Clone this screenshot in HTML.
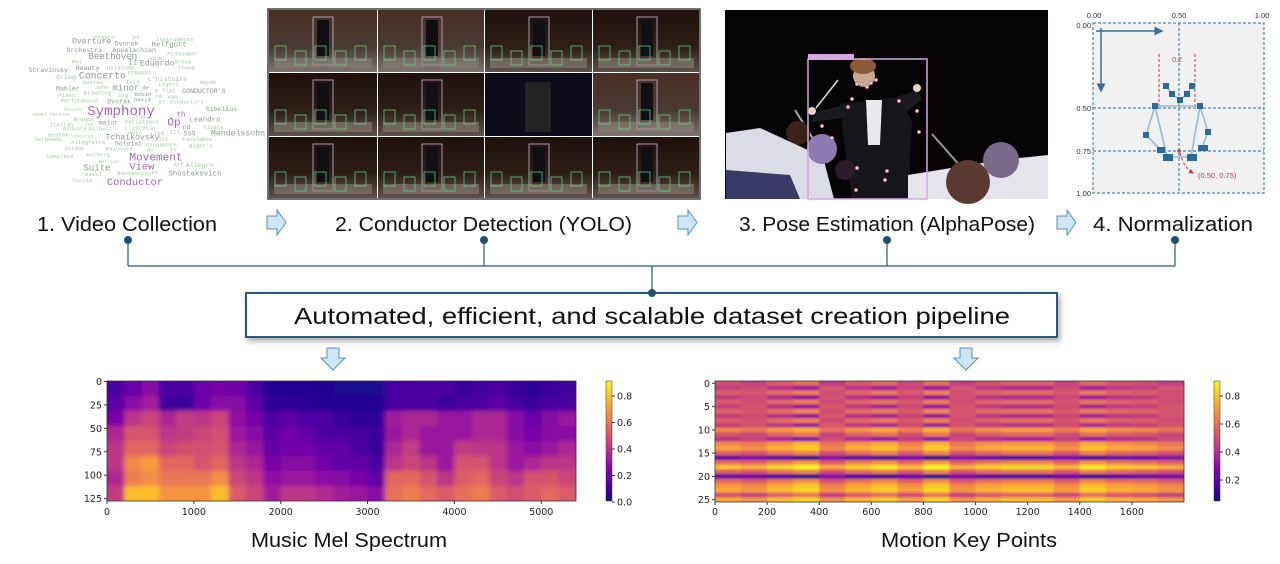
<!DOCTYPE html>
<html><head><meta charset="utf-8"><style>
html,body{margin:0;padding:0;background:#fff;}
svg{display:block;}
.lbl{font-family:"Liberation Sans",sans-serif;fill:#111;}
.wc{font-family:"Liberation Mono",monospace;}
.tk{font-family:"DejaVu Sans","Liberation Sans",sans-serif;font-size:9.5px;fill:#222;}
</style></head><body>
<svg id="root" width="1280" height="564" viewBox="0 0 1280 564" xmlns="http://www.w3.org/2000/svg">
<defs>
<filter id="blur2" x="-2%" y="-2%" width="104%" height="104%"><feGaussianBlur stdDeviation="2.4"/></filter>
<filter id="blur1" x="-2%" y="-2%" width="104%" height="104%"><feGaussianBlur stdDeviation="1.0"/></filter>
<filter id="shadow" x="-5%" y="-30%" width="110%" height="170%"><feDropShadow dx="2" dy="3" stdDeviation="3" flood-color="#000" flood-opacity="0.35"/></filter>
<clipPath id="clipMel"><rect x="107" y="381" width="469" height="120"/></clipPath>
<clipPath id="clipMot"><rect x="715" y="381" width="469" height="121"/></clipPath>
<linearGradient id="tileg" x1="0" y1="0" x2="0" y2="1"><stop offset="0" stop-color="#1e100c"/><stop offset="0.6" stop-color="#2e1e18"/><stop offset="1" stop-color="#5e524c"/></linearGradient>
<linearGradient id="tileg2" x1="0" y1="0" x2="0" y2="1"><stop offset="0" stop-color="#4a2e26"/><stop offset="0.6" stop-color="#4a3a34"/><stop offset="1" stop-color="#7e7470"/></linearGradient>
<linearGradient id="cbar" x1="0" y1="1" x2="0" y2="0">
<stop offset="0" stop-color="#0d0887"/><stop offset="0.1" stop-color="#41049d"/><stop offset="0.2" stop-color="#6a00a8"/><stop offset="0.3" stop-color="#8f0da4"/><stop offset="0.4" stop-color="#b12a90"/><stop offset="0.5" stop-color="#cc4778"/><stop offset="0.6" stop-color="#e16462"/><stop offset="0.7" stop-color="#f2844b"/><stop offset="0.8" stop-color="#fca636"/><stop offset="0.9" stop-color="#fcce25"/><stop offset="1" stop-color="#f0f921"/></linearGradient>
<marker id="ah" markerWidth="6" markerHeight="6" refX="5" refY="3" orient="auto"><path d="M0,0 L6,3 L0,6 z" fill="#3a6f93"/></marker>
<marker id="ahr" markerWidth="5" markerHeight="5" refX="4" refY="2.5" orient="auto"><path d="M0,0 L5,2.5 L0,5 z" fill="#c0394b"/></marker>
</defs>

<g id="wordcloud"></g>

<g id="photogrid">
<rect x="268" y="9" width="432" height="190" fill="#fff" stroke="#111" stroke-width="1.2"/>
</g>

<g>
<rect x="725" y="10" width="323" height="189" fill="#050303"/>
<path d="M840,104 L897,97 L912,120 L908,199 L852,199 L845,150 Z" fill="#15151a"/>
<path d="M866,100 L882,100 L880,145 L868,145 Z" fill="#e8e8ec"/>
<path d="M849,104 L815,112 L812,122 L846,118 Z" fill="#1a1a20"/>
<path d="M897,97 L918,90 L922,100 L906,112 Z" fill="#1a1a20"/>
<circle cx="864" cy="76" r="11" fill="#c8a890"/>
<ellipse cx="863" cy="66" rx="13" ry="8" fill="#8a5a3a"/>
<circle cx="812" cy="111" r="4" fill="#e8d0c8"/><circle cx="917" cy="88" r="4" fill="#e8d0c8"/>
<line x1="816" y1="108" x2="838" y2="80" stroke="#ddd" stroke-width="1.5"/>
<line x1="795" y1="110" x2="820" y2="150" stroke="#aaa" stroke-width="2"/>
<line x1="932" y1="134" x2="962" y2="168" stroke="#999" stroke-width="2"/>
<circle cx="798" cy="133" r="12" fill="#3a2218"/>
<path d="M726,133 L760,128 L823,157 L834,199 L726,199 Z" fill="#dcdce6"/>
<path d="M726,170 L790,175 L800,199 L726,199 Z" fill="#3a3a66"/>
<circle cx="822" cy="149" r="15" fill="#8d7ab0"/>
<path d="M908,175 L1000,160 L1048,155 L1048,199 L908,199 Z" fill="#e4e4ea"/>
<circle cx="1001" cy="160" r="18" fill="#7a6a8a"/>
<circle cx="968" cy="182" r="22" fill="#5a3a30"/>
<circle cx="845" cy="170" r="10" fill="#2a1a2a"/>
<rect x="808" y="59" width="119" height="140" fill="none" stroke="#d7a6e2" stroke-width="1.5"/>
<rect x="808" y="54" width="46" height="6" fill="#d7a6e2"/>
<g fill="#f0d0d0" stroke="#a04050" stroke-width="0.5">
<circle cx="857" cy="84" r="1.8"/><circle cx="862" cy="84" r="1.8"/><circle cx="867" cy="87" r="1.8"/><circle cx="871" cy="83" r="1.8"/><circle cx="876" cy="80" r="1.8"/>
<circle cx="852" cy="99" r="1.8"/><circle cx="899" cy="101" r="1.8"/><circle cx="848" cy="107" r="1.8"/><circle cx="917" cy="111" r="1.8"/>
<circle cx="822" cy="126" r="1.8"/><circle cx="919" cy="132" r="1.8"/><circle cx="832" cy="138" r="1.8"/>
<circle cx="857" cy="168" r="1.8"/><circle cx="887" cy="171" r="1.8"/><circle cx="885" cy="180" r="1.8"/><circle cx="856" cy="190" r="1.8"/>
</g>
</g>

<g>
<rect x="1093" y="23" width="171" height="170" fill="#f1f1f1"/>
<g stroke="#4a86ab" stroke-width="1.2" stroke-dasharray="3,2" fill="none">
<rect x="1093" y="23" width="171" height="170"/>
<line x1="1179" y1="23" x2="1179" y2="193"/>
<line x1="1093" y1="108" x2="1264" y2="108"/>
<line x1="1093" y1="151" x2="1264" y2="151"/>
</g>
<line x1="1096" y1="31" x2="1162" y2="31" stroke="#3a6f93" stroke-width="1.5" marker-end="url(#ah)"/>
<line x1="1101" y1="28" x2="1101" y2="91" stroke="#3a6f93" stroke-width="1.5" marker-end="url(#ah)"/>
<g font-family="Liberation Sans,sans-serif" font-size="7.5" fill="#333">
<text x="1094" y="18" text-anchor="middle">0.00</text><text x="1179" y="18" text-anchor="middle">0.50</text><text x="1262" y="18" text-anchor="middle">1.00</text>
<text x="1091" y="28" text-anchor="end">0.00</text><text x="1091" y="111" text-anchor="end">0.50</text><text x="1091" y="154" text-anchor="end">0.75</text><text x="1091" y="196" text-anchor="end">1.00</text>
</g>
<g stroke="#c0394b" stroke-width="1" stroke-dasharray="3,2" fill="none">
<line x1="1159" y1="54" x2="1159" y2="108"/><line x1="1195" y1="54" x2="1195" y2="108"/>
<path d="M1180,153 Q1184,168 1193,173" marker-end="url(#ahr)"/>
</g>
<text x="1177" y="62" text-anchor="middle" font-family="Liberation Sans,sans-serif" font-size="7" fill="#c0394b">0.2</text>
<text x="1198" y="178" font-family="Liberation Sans,sans-serif" font-size="7.5" fill="#c0394b">(0.50, 0.75)</text>
<g stroke="#9ab8d4" stroke-width="1.6" fill="none">
<polyline points="1166,86 1172,94 1180,100 1187,94 1192,86"/>
<polyline points="1155,106 1200,106"/>
<polyline points="1155,106 1146,135 1161,150"/>
<polyline points="1155,106 1167,157 1191,157 1200,106"/>
<polyline points="1200,106 1208,132 1202,148"/>
</g>
<circle cx="1179" cy="151" r="1.8" fill="#c0394b"/>
<g fill="#2a6a96">
<rect x="1163" y="83" width="6" height="6"/><rect x="1189" y="83" width="6" height="6"/><rect x="1169" y="91" width="6" height="6"/><rect x="1184" y="91" width="6" height="6"/><rect x="1177" y="97" width="6" height="6"/>
<rect x="1152" y="103" width="6" height="6"/><rect x="1197" y="103" width="6" height="6"/><rect x="1143" y="132" width="6" height="6"/><rect x="1205" y="129" width="6" height="6"/>
<rect x="1157" y="147" width="8" height="6"/><rect x="1198" y="145" width="10" height="6"/><rect x="1163" y="154" width="10" height="7"/><rect x="1187" y="154" width="10" height="7"/>
</g>
</g>

<g class="lbl" font-size="20">
<text x="37" y="231" textLength="180" lengthAdjust="spacingAndGlyphs">1. Video Collection</text>
<text x="335" y="231" textLength="297" lengthAdjust="spacingAndGlyphs">2. Conductor Detection (YOLO)</text>
<text x="739" y="231" textLength="296" lengthAdjust="spacingAndGlyphs">3. Pose Estimation (AlphaPose)</text>
<text x="1093" y="231" textLength="160" lengthAdjust="spacingAndGlyphs">4. Normalization</text>
</g>
<g fill="#cfe6f5" stroke="#5b8fb5" stroke-width="1">
<path d="M267,216 L277,216 L277,210 L286,222.5 L277,235 L277,229 L267,229 Z"/>
<path d="M678,216 L688,216 L688,210 L697,222.5 L688,235 L688,229 L678,229 Z"/>
<path d="M1057,216 L1067,216 L1067,210 L1076,222.5 L1067,235 L1067,229 L1057,229 Z"/>
<path d="M327,348 L339,348 L339,358 L345,358 L333,370 L321,358 L327,358 Z"/>
<path d="M960,348 L972,348 L972,358 L978,358 L966,370 L954,358 L960,358 Z"/>
</g>

<g stroke="#2b5877" stroke-width="1.2" fill="none">
<line x1="128" y1="240" x2="128" y2="266"/><line x1="484" y1="240" x2="484" y2="266"/><line x1="887" y1="240" x2="887" y2="266"/><line x1="1175" y1="240" x2="1175" y2="266"/>
<line x1="128" y1="266" x2="1175" y2="266"/><line x1="652" y1="266" x2="652" y2="293"/>
</g>
<g fill="#22506f">
<circle cx="128" cy="240" r="4"/><circle cx="484" cy="240" r="4"/><circle cx="887" cy="240" r="4"/><circle cx="1175" cy="240" r="4"/>
</g>
<rect x="246" y="293" width="811" height="44" fill="#fff" stroke="#2b5877" stroke-width="2" filter="url(#shadow)"/>
<circle cx="652" cy="293" r="4" fill="#22506f"/>
<text class="lbl" x="294" y="324" font-size="23" textLength="716" lengthAdjust="spacingAndGlyphs">Automated, efficient, and scalable dataset creation pipeline</text>

<g id="mel"></g>
<g id="mot"></g>

<text class="lbl" x="251" y="547" font-size="20" textLength="196" lengthAdjust="spacingAndGlyphs">Music Mel Spectrum</text>
<text class="lbl" x="881" y="547" font-size="20" textLength="176" lengthAdjust="spacingAndGlyphs">Motion Key Points</text>
</svg>

<script>
// ---------- Mel spectrum data: 27 time segments x 8 mel bands (top bin 0 -> bottom bin 127)
const melTimeEdges = [0,200,400,600,800,1000,1200,1400,1600,1800,2000,2200,2400,2600,2800,3000,3200,3400,3600,3800,4000,4200,4400,4600,4800,5000,5200,5400];
const melBandEdges = [0,16,32,48,64,80,96,112,128];
const melValues = [
[.12,.15,.22,.35,.40,.40,.35,.42],
[.18,.25,.40,.50,.55,.65,.62,.78],
[.25,.32,.45,.50,.55,.70,.66,.78],
[.12,.08,.35,.40,.45,.55,.60,.68],
[.12,.08,.42,.42,.48,.55,.60,.68],
[.18,.20,.40,.45,.48,.50,.60,.68],
[.22,.25,.45,.48,.50,.55,.66,.78],
[.20,.25,.28,.30,.35,.40,.45,.52],
[.12,.15,.22,.25,.30,.35,.40,.45],
[.04,.06,.12,.15,.17,.22,.27,.32],
[.04,.06,.15,.20,.20,.25,.30,.40],
[.04,.05,.12,.16,.20,.25,.30,.40],
[.04,.04,.12,.12,.16,.20,.26,.36],
[.03,.04,.08,.12,.16,.16,.25,.32],
[.03,.04,.06,.10,.12,.16,.22,.30],
[.03,.04,.06,.08,.08,.12,.16,.26],
[.10,.10,.32,.30,.35,.40,.55,.58],
[.10,.12,.35,.35,.42,.45,.56,.62],
[.12,.12,.35,.30,.30,.40,.50,.56],
[.12,.08,.30,.30,.30,.30,.40,.52],
[.08,.10,.30,.30,.42,.50,.52,.58],
[.10,.12,.35,.35,.40,.50,.56,.62],
[.12,.15,.35,.35,.40,.40,.45,.52],
[.08,.10,.25,.25,.30,.30,.40,.48],
[.06,.08,.18,.22,.26,.35,.50,.52],
[.08,.10,.25,.25,.30,.40,.50,.56],
[.10,.12,.30,.26,.35,.40,.45,.52]];
const melXTicks = [0,1000,2000,3000,4000,5000];
const melYTicks = [0,25,50,75,100,125];
const melCbarTicks = [0.0,0.2,0.4,0.6,0.8];

// ---------- Motion key points data: 26 keypoint rows, 18 time segments
const motRowValues = [.5,.45,.55,.44,.54,.46,.56,.45,.55,.46,.66,.52,.42,.66,.72,.55,.22,.6,.8,.55,.2,.58,.7,.74,.5,.74];
const motColEdges = [0,100,200,300,400,500,600,700,800,900,1000,1100,1200,1300,1400,1500,1600,1700,1800];
const motColOffsets = [0,-.04,.04,.1,-.06,.03,.08,-.02,.1,-.05,.02,.05,.05,-.03,.08,.02,0,-.05];
const motXTicks = [0,200,400,600,800,1000,1200,1400,1600];
const motYTicks = [0,5,10,15,20,25];
const motCbarTicks = [0.2,0.4,0.6,0.8];

const plasma = ["#0d0887","#41049d","#6a00a8","#8f0da4","#b12a90","#cc4778","#e16462","#f2844b","#fca636","#fcce25","#f0f921"];
function hex(h){return [parseInt(h.substr(1,2),16),parseInt(h.substr(3,2),16),parseInt(h.substr(5,2),16)];}
function cmap(t){t=Math.max(0,Math.min(1,t));const p=t*10,i=Math.min(9,Math.floor(p)),f=p-i;const a=hex(plasma[i]),b=hex(plasma[i+1]);return "rgb("+a.map((v,k)=>Math.round(v+(b[k]-v)*f)).join(",")+")";}
const NS="http://www.w3.org/2000/svg";
function mk(tag,attrs,parent){const e=document.createElementNS(NS,tag);for(const k in attrs)e.setAttribute(k,attrs[k]);parent.appendChild(e);return e;}

const melX0=107, melX1=576, melY0=381, melY1=501;
const melXs=v=>melX0+(v-0)/(5400-0)*(melX1-melX0);
const melYs=v=>melY0+(v-0)/(128-0)*(melY1-melY0);
const melC=v=>cmap(v/0.91);
const melCbY=v=>502-v*132.5;
(function(){
 const g=document.getElementById('mel');
 const hm=mk('g',{'clip-path':'url(#clipMel)'},g);
 const inner=mk('g',{filter:'url(#blur2)'},hm);
 mk('rect',{x:melX0-10,y:melY0-10,width:melX1-melX0+20,height:melY1-melY0+20,fill:melC(0.2)},inner);
 for(let i=0;i<melValues.length;i++){for(let j=0;j<8;j++){
  const x0=melXs(melTimeEdges[i]), x1=melXs(melTimeEdges[i+1]);
  const y0=j==0?melY0-6:melYs(melBandEdges[j]), y1=j==7?melY1+6:melYs(melBandEdges[j+1]);
  const r=mk('rect',{x:i==0?x0-6:x0,y:y0,width:(x1-x0)+(i==0||i==melValues.length-1?6:0)+0.5,height:y1-y0+0.5,fill:melC(melValues[i][j])},inner);
  
  
 }}
 mk('rect',{x:melX0,y:melY0,width:melX1-melX0,height:melY1-melY0,fill:'none',stroke:'#333','stroke-width':0.8},g);
 melXTicks.forEach(v=>{mk('line',{x1:melXs(v),x2:melXs(v),y1:melY1,y2:melY1+3,stroke:'#333'},g);const t=mk('text',{x:melXs(v),y:melY1+14,'text-anchor':'middle',class:'tk'},g);t.textContent=v;});
 melYTicks.forEach(v=>{const y=melYs(v+0.5);mk('line',{x1:melX0-3,x2:melX0,y1:y,y2:y,stroke:'#333'},g);const t=mk('text',{x:melX0-5,y:y+3.5,'text-anchor':'end',class:'tk'},g);t.textContent=v;});
 const cb=mk('rect',{x:606,y:381,width:6,height:120,fill:'url(#cbar)',stroke:'#333','stroke-width':0.5},g);
 
 
 melCbarTicks.forEach(v=>{const y=melCbY(v);mk('line',{x1:612,x2:615,y1:y,y2:y,stroke:'#333'},g);const t=mk('text',{x:617,y:y+3.5,class:'tk'},g);t.textContent=v.toFixed(1);});
})();

const motX0=715, motX1=1184, motY0=381, motY1=502;
const motXs=v=>motX0+(v-0)/(1800-0)*(motX1-motX0);
const motYs=v=>motY0+(v+0.5)/26*(motY1-motY0);
const motC=v=>cmap((v-0.05)/(0.907-0.05));
const motCbY=v=>396+(0.8-v)*140;
(function(){
 const g=document.getElementById('mot');
 const hm=mk('g',{'clip-path':'url(#clipMot)'},g);
 const inner=mk('g',{filter:'url(#blur1)'},hm);
 for(let r=0;r<motRowValues.length;r++){for(let c=0;c<motColOffsets.length;c++){
  let v=motRowValues[r]+motColOffsets[c]*(motRowValues[r]<0.5?-1.2:1);
  const x0=motXs(motColEdges[c]), x1=motXs(motColEdges[c+1]);
  const y0=r==0?motY0-6:motYs(r-0.5), y1=r==motRowValues.length-1?motY1+6:motYs(r+0.5);
  const e=mk('rect',{x:c==0?x0-6:x0,y:y0,width:(x1-x0)+(c==0||c==motColOffsets.length-1?6:0)+0.5,height:y1-y0+0.3,fill:motC(v)},inner);
  
  
 }}
 mk('rect',{x:motX0,y:motY0,width:motX1-motX0,height:motY1-motY0,fill:'none',stroke:'#333','stroke-width':0.8},g);
 motXTicks.forEach(v=>{mk('line',{x1:motXs(v),x2:motXs(v),y1:motY1,y2:motY1+3,stroke:'#333'},g);const t=mk('text',{x:motXs(v),y:motY1+13,'text-anchor':'middle',class:'tk'},g);t.textContent=v;});
 motYTicks.forEach(v=>{const y=motYs(v);mk('line',{x1:motX0-3,x2:motX0,y1:y,y2:y,stroke:'#333'},g);const t=mk('text',{x:motX0-5,y:y+3.5,'text-anchor':'end',class:'tk'},g);t.textContent=v;});
 const cb=mk('rect',{x:1214,y:381,width:6,height:120,fill:'url(#cbar)',stroke:'#333','stroke-width':0.5},g);
 
 
 motCbarTicks.forEach(v=>{const y=motCbY(v);mk('line',{x1:1220,x2:1223,y1:y,y2:y,stroke:'#333'},g);const t=mk('text',{x:1225,y:y+3.5,class:'tk'},g);t.textContent=v.toFixed(1);});
})();

const words=[["Presto",205,108,7,0],["pt",290,108,7,0],["Instruments",340,114,7,0],["Overture",157,122,10,1],["Dvorak",250,127,8,1],["Helfgott",330,130,9,1],["Orchestra",145,147,8,1],["Appalachian",245,147,8,1],["Midsummer",365,157,7,0],["Beethoven",193,168,11,1],["Wind",328,171,7,0],["Mvt",157,181,7,0],["II",280,184,9,1],["Eduardo",305,188,10,1],["Brook",380,181,7,0],["Stravinsky",62,207,8,1],["Beauty",165,201,8,1],["Oklahoma",233,200,7,0],["Theme",388,199,7,0],["Concerto",172,227,12,1],["STRAUSS",278,215,7,0],["Grieg",122,228,8,0],["L'histoire",322,234,8,0],["Gustav",180,243,7,0],["trio",275,242,7,0],["Haydn",435,243,7,0],["Ligeti",345,249,7,0],["Mahler",122,262,8,1],["John",207,258,7,0],["minor",245,262,11,1],["de",310,260,7,1],["B-flat",338,268,7,0],["CONDUCTOR'S",397,270,8,1],["Piano",127,282,7,0],["Browning",183,275,7,0],["Sog",257,282,7,0],["Robin",293,279,7,1],["rd",338,285,7,0],["Van",365,286,7,0],["Performance",132,298,7,0],["Dvořák",234,302,8,1],["David",292,296,7,1],["at",345,302,7,0],["Conductors",370,302,7,0],["Basset",140,322,6,0],["Sibelius",448,324,8,1],["Aweal Version",70,337,6,0],["Con",295,347,7,0],["Brahms",160,354,7,0],["major",215,365,8,1],["Variations",272,362,7,0],["Leandro",413,356,9,1],["Italian",108,370,7,0],["Due",185,368,6,0],["nd",398,378,8,1],["Vivace",443,378,7,0],["Andante",137,383,7,0],["Gilbert",193,383,7,0],["L'istesso",272,380,7,0],["Bastok",105,400,7,0],["excerpt",160,404,6,0],["moto",280,395,7,0],["Ted",335,396,7,0],["III",370,393,7,0],["SSO",400,398,8,1],["Mendelssohn",460,397,10,1],["Serenade",75,414,7,0],["Tchaikovsky",230,410,10,1],["1st",345,412,7,0],["Finale",397,414,7,0],["Mov",440,414,7,0],["Allegretto",155,423,7,0],["Soloist",250,427,8,1],["Singapore",318,430,7,0],["Night's",412,433,7,0],["Soldat",140,441,7,0],["Pasonore",230,442,7,0],["du",320,446,7,0],["IV",370,446,7,0],["Complete",101,465,7,0],["Holberg",188,460,7,0],["Berlioz",215,480,6,0],["Alf",378,490,7,0],["Allegro",405,492,8,0],["Suite",182,503,11,1],["Ravel",185,519,7,0],["Rachmaninoff",255,516,7,0],["Shostakovich",367,517,9,1],["Violin",157,537,7,0]];
const bigWords=[["Symphony",190,330,19,"#a067a8"],["th",385,335,10,"#a067a8"],["Op",365,362,15,"#a067a8"],["Movement",282,466,15,"#a067a8"],["View",282,494,14,"#a067a8"],["Conductor",233,540,14,"#a067a8"]];
(function(){
 const g=document.getElementById('wordcloud');
 words.forEach(w=>{const t=mk('text',{x:(w[1]/2.18).toFixed(1),y:(w[2]/3+3).toFixed(1),'font-size':(w[3]*0.82).toFixed(1),fill:w[4]?"#8a9a8a":"#a8c8a4",class:'wc'},g);t.textContent=w[0];});
 bigWords.forEach(w=>{const t=mk('text',{x:(w[1]/2.18).toFixed(1),y:(w[2]/3+5).toFixed(1),'font-size':(w[3]*0.74).toFixed(1),fill:w[4],class:'wc'},g);t.textContent=w[0];});
})();

(function(){
 const g=document.getElementById('photogrid');
 const xs=[269,378,485,593], ys=[10,73,137], w=[108,106,107,106], h=[62,63,61];
 for(let r=0;r<3;r++)for(let c=0;c<4;c++){
  const x=xs[c],y=ys[r];
  mk('rect',{x:x,y:y,width:w[c],height:h[r],fill:(r==0&&c<2)||(r==1&&c==3)?'url(#tileg2)':'url(#tileg)'},g);
  mk('rect',{x:x+48,y:y+10,width:12,height:h[r]-26,fill:'#101014'},g);
  mk('rect',{x:x+44,y:y+7,width:20,height:h[r]-14,fill:'none',stroke:'#c8b8e0','stroke-width':0.8},g);
  mk('rect',{x:x+5,y:y+h[r]-14,width:w[c]-10,height:10,fill:'#8a8078',opacity:0.6},g);
  for(let k=0;k<5;k++) mk('rect',{x:x+6+k*20,y:y+h[r]-26+(k%2)*5,width:11,height:14,fill:'none',stroke:'#5fe08a','stroke-width':0.7},g);
 }
 mk('rect',{x:485,y:73,width:107,height:63,fill:'#0c0c18'},g);
 mk('rect',{x:525,y:82,width:26,height:50,fill:'#222'},g);
})();
</script>
</body></html>
